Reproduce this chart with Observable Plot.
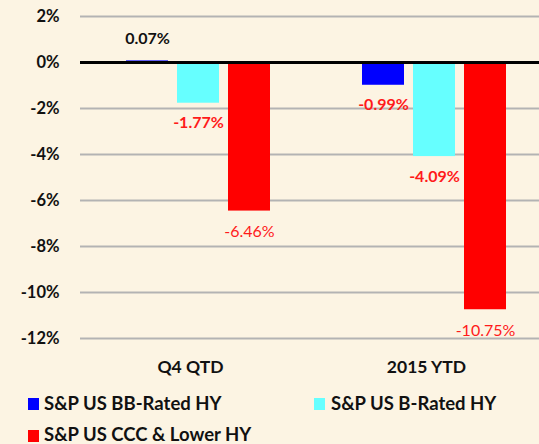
<!DOCTYPE html>
<html>
<head>
<meta charset="utf-8">
<script src="https://cdn.jsdelivr.net/npm/d3@7"></script>
<script src="https://cdn.jsdelivr.net/npm/@observablehq/plot@0.6"></script>
<style>
  html, body { margin: 0; padding: 0; background: #FCF4E3; overflow: hidden; }
  #wrap { width: 539px; height: 444px; position: relative; overflow: hidden; background: #FCF4E3; font-family: Lato, "Open Sans", sans-serif; }
  #chart { position: absolute; left: 0; top: 0; }
  #chart svg { max-width: none !important; }
  .leg { position: absolute; font-weight: bold; font-size: 18.5px; color: #111; white-space: nowrap; line-height: 20px; }
  .sw { position: absolute; width: 11px; height: 12px; }
</style>
</head>
<body>
<div id="wrap">
  <div id="chart"></div>
</div>
<script>
const periods = ["Q4 QTD", "2015 YTD"];
const series = ["S&P US BB-Rated HY", "S&P US B-Rated HY", "S&P US CCC & Lower HY"];
const colors = ["#0000FF", "#66FFFF", "#FF0000"];
const bbValues = [0.07, -0.99];
const bValues = [-1.77, -4.09];
const cccValues = [-6.46, -10.75];
const yTicks = [2, 0, -2, -4, -6, -8, -10, -12];

const data = [];
periods.forEach((p, i) => {
  data.push({period: p, series: series[0], value: bbValues[i]});
  data.push({period: p, series: series[1], value: bValues[i]});
  data.push({period: p, series: series[2], value: cccValues[i]});
});
const fmt = d => d.value.toFixed(2) + "%";
const boldPos = data.filter(d => d.series !== series[2] && d.value > 0);
const boldNeg = data.filter(d => d.series !== series[2] && d.value <= 0);
const normNeg = data.filter(d => d.series === series[2]);

const chart = Plot.plot({
  width: 552,
  height: 380,
  marginLeft: 80,
  marginRight: 0,
  marginTop: 16,
  marginBottom: 42,
  style: {background: "transparent", fontFamily: "Lato, 'Open Sans', sans-serif", color: "#111", maxWidth: "none"},
  fx: {domain: periods, padding: 0, label: null},
  x: {domain: series, paddingInner: 0.173, paddingOuter: 0.856, axis: null},
  y: {domain: [-12, 2], label: null},
  color: {domain: series, range: colors},
  marks: [
    Plot.ruleY(yTicks.filter(t => t !== 0), {stroke: "#b3b3b3", strokeWidth: 2}),
    Plot.barY(data, {fx: "period", x: "series", y: "value", fill: "series"}),
    Plot.ruleY([0], {stroke: "#000", strokeWidth: 3}),
    Plot.text(boldPos, {fx: "period", x: "series", y: "value", text: fmt, dy: -22,
      fill: "#111", fontWeight: "bold", fontSize: 16}),
    Plot.text(boldNeg, {fx: "period", x: "series", y: "value", text: fmt, dy: 20,
      fill: "#FF1A1A", fontWeight: "bold", fontSize: 16}),
    Plot.text(normNeg, {fx: "period", x: "series", y: "value", text: fmt, dy: 21,
      fill: "#FF1A1A", fontSize: 16}),
    Plot.axisY({ticks: yTicks, tickFormat: d => d + "%", tickSize: 0, tickPadding: 21, fontWeight: "bold", fontSize: 16.5, label: null}),
    Plot.axisFx({anchor: "bottom", tickSize: 0, tickPadding: 22, dx: -8, fontWeight: "bold", fontSize: 17.5, label: null})
  ]
});
document.getElementById("chart").appendChild(chart);

// Legend
const wrap = document.getElementById("wrap");
const legendPos = [[28, 398, 44, 393], [314, 398, 331, 393], [28, 430, 44, 424]];
series.forEach((s, i) => {
  const sw = document.createElement("div");
  sw.className = "sw";
  sw.style.left = legendPos[i][0] + "px";
  sw.style.top = legendPos[i][1] + "px";
  sw.style.background = colors[i];
  wrap.appendChild(sw);
  const t = document.createElement("div");
  t.className = "leg";
  t.style.left = legendPos[i][2] + "px";
  t.style.top = legendPos[i][3] + "px";
  t.textContent = s;
  wrap.appendChild(t);
});
</script>
</body>
</html>
